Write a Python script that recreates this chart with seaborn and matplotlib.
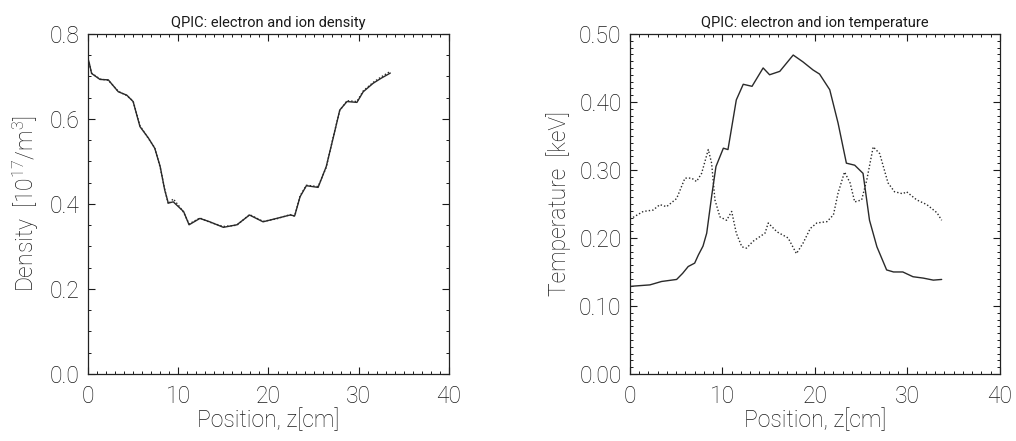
import matplotlib

matplotlib.use("Agg")

import matplotlib.pyplot as plt
import pandas as pd
import seaborn as sns
from matplotlib.ticker import FormatStrFormatter, MultipleLocator

# density profiles (electron solid, ion dotted), z in cm, n in 1e17 / m^3
DENS_Z = [0.0, 0.15, 0.4, 1.33, 2.25, 3.36, 4.3, 5.0, 5.76, 6.7, 7.4, 8.0, 8.5, 8.9, 9.45,
          10.2, 10.6, 11.2, 12.4, 13.5, 15.0, 16.5, 17.9, 19.4, 20.9, 22.4, 22.9, 23.5,
          24.2, 25.5, 26.4, 27.2, 27.9, 28.7, 29.8, 30.5, 31.6, 32.5, 33.5]
DENS_E = [0.742, 0.731, 0.707, 0.693, 0.692, 0.664, 0.656, 0.641, 0.582, 0.555, 0.531, 0.488,
          0.433, 0.402, 0.405, 0.390, 0.382, 0.351, 0.366, 0.358, 0.345, 0.351, 0.374, 0.358,
          0.366, 0.374, 0.372, 0.417, 0.443, 0.439, 0.488, 0.558, 0.621, 0.641, 0.639, 0.664,
          0.684, 0.696, 0.708]
DENS_I = [0.740, 0.729, 0.708, 0.694, 0.691, 0.665, 0.655, 0.642, 0.584, 0.554, 0.532, 0.486,
          0.435, 0.400, 0.412, 0.392, 0.380, 0.353, 0.367, 0.357, 0.347, 0.350, 0.375, 0.359,
          0.365, 0.375, 0.371, 0.419, 0.444, 0.441, 0.486, 0.560, 0.620, 0.643, 0.641, 0.666,
          0.686, 0.699, 0.712]

# temperature profiles, keV
TE_Z = [0.0, 0.18, 2.16, 3.42, 5.05, 5.7, 6.3, 7.0, 7.4, 7.9, 8.3, 8.83, 9.3, 10.1, 10.6,
        11.5, 12.25, 13.2, 14.4, 15.1, 16.2, 17.65, 18.7, 19.8, 20.5, 21.6, 22.5, 23.4, 24.3,
        25.2, 25.9, 26.7, 27.75, 28.5, 29.5, 30.6, 31.7, 32.8, 33.7]
TE_VAL = [0.128, 0.129, 0.131, 0.136, 0.139, 0.148, 0.158, 0.163, 0.175, 0.188, 0.207, 0.261,
          0.305, 0.332, 0.330, 0.403, 0.426, 0.423, 0.450, 0.440, 0.445, 0.469, 0.459, 0.447,
          0.441, 0.418, 0.369, 0.310, 0.307, 0.295, 0.226, 0.187, 0.153, 0.150, 0.150, 0.143,
          0.141, 0.138, 0.139]
TI_Z = [0.0, 0.18, 1.44, 2.5, 3.24, 3.96, 5.05, 5.95, 6.67, 7.2, 7.75, 8.47, 8.83, 9.19, 9.73,
        10.45, 11.0, 11.5, 12.1, 12.6, 13.3, 14.05, 14.6, 14.95, 15.9, 17.1, 18.0, 18.7, 19.5,
        20.2, 21.3, 22.0, 22.5, 23.2, 23.8, 24.3, 25.05, 25.6, 26.3, 27.0, 27.9, 28.6, 29.5,
        29.9, 31.0, 32.1, 33.2, 33.7]
TI_VAL = [0.228, 0.229, 0.239, 0.241, 0.249, 0.246, 0.258, 0.288, 0.288, 0.283, 0.295, 0.330,
          0.310, 0.256, 0.231, 0.226, 0.239, 0.207, 0.187, 0.185, 0.195, 0.202, 0.207, 0.222,
          0.209, 0.200, 0.177, 0.192, 0.214, 0.222, 0.224, 0.234, 0.266, 0.297, 0.281, 0.253,
          0.256, 0.285, 0.334, 0.324, 0.281, 0.268, 0.265, 0.268, 0.256, 0.249, 0.237, 0.226]

LINE = "#2a2a2a"

sns.set_theme(style="ticks")
plt.rcParams.update({
    "font.family": ["Roboto", "DejaVu Sans"],
    "font.weight": "light",
    "axes.labelweight": "light",
    "axes.titleweight": "normal",
    "axes.edgecolor": "#222222",
    "axes.linewidth": 0.9,
    "xtick.direction": "in",
    "ytick.direction": "in",
    "xtick.top": True,
    "ytick.right": True,
    "xtick.major.size": 5,
    "ytick.major.size": 5,
    "xtick.minor.size": 2.5,
    "ytick.minor.size": 2.5,
    "xtick.major.width": 0.8,
    "ytick.major.width": 0.8,
    "xtick.minor.width": 0.7,
    "ytick.minor.width": 0.7,
    "xtick.labelsize": 16.5,
    "ytick.labelsize": 16.5,
    "axes.labelsize": 16.5,
    "mathtext.fontset": "custom",
    "mathtext.rm": "Roboto:light",
    "mathtext.it": "Roboto:light",
    "text.color": "#1a1a1a",
    "xtick.color": "#1a1a1a",
    "ytick.color": "#1a1a1a",
    "axes.labelcolor": "#1a1a1a",
})

dens = pd.concat([
    pd.DataFrame({"z": DENS_Z, "val": DENS_E, "species": "electron"}),
    pd.DataFrame({"z": DENS_Z, "val": DENS_I, "species": "ion"}),
])
temp = pd.concat([
    pd.DataFrame({"z": TE_Z, "val": TE_VAL, "species": "electron"}),
    pd.DataFrame({"z": TI_Z, "val": TI_VAL, "species": "ion"}),
])

fig = plt.figure(figsize=(10.16, 4.41), dpi=100)
ax1 = fig.add_axes([0.0866, 0.152, 0.3553, 0.771])
ax2 = fig.add_axes([0.620, 0.152, 0.3642, 0.771])

for ax, data in [(ax1, dens), (ax2, temp)]:
    sns.lineplot(data=data, x="z", y="val", style="species", dashes={"electron": "", "ion": (1, 1.5)},
                 color=LINE, linewidth=1.0, sort=False, estimator=None, legend=False, ax=ax)
    ax.set_xlim(0, 40)
    ax.xaxis.set_major_locator(MultipleLocator(10))
    ax.xaxis.set_minor_locator(MultipleLocator(1))
    ax.set_xlabel("Position, z[cm]", labelpad=0)
    ax.tick_params(axis="both", which="both", top=True, right=True)
    ax.tick_params(axis="x", pad=8)
    ax.tick_params(axis="y", pad=6)

ax1.set_ylim(0, 0.8)
ax1.yaxis.set_major_locator(MultipleLocator(0.2))
ax1.yaxis.set_minor_locator(MultipleLocator(0.05))
ax1.yaxis.set_major_formatter(FormatStrFormatter("%.1f"))
ax1.set_ylabel("Density  [10$^{17}$/m$^3$]", labelpad=6)
ax1.set_title("QPIC: electron and ion density", fontsize=10.5, pad=5)

ax2.set_ylim(0, 0.5)
ax2.yaxis.set_major_locator(MultipleLocator(0.1))
ax2.yaxis.set_minor_locator(MultipleLocator(0.01))
ax2.yaxis.set_major_formatter(FormatStrFormatter("%.2f"))
ax2.set_ylabel("Temperature  [keV]", labelpad=6)
ax2.set_title("QPIC: electron and ion temperature", fontsize=10.5, pad=5)

fig.savefig("out.png", dpi=100)
